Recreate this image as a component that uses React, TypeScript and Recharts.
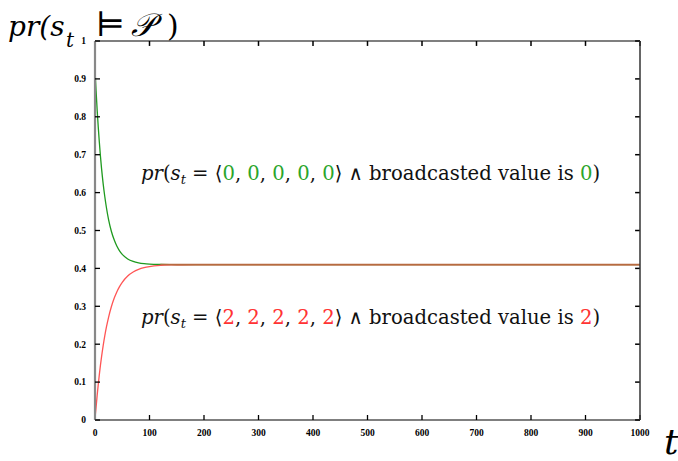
import React from "react";
import { LineChart, Line, XAxis, YAxis, Customized, ReferenceLine } from "recharts";

const T = [0, 2, 4, 6, 8, 10, 12, 15, 18, 21, 25, 30, 35, 40, 45, 50, 60, 70, 80, 90, 100, 120, 140, 160, 200, 300, 400, 500, 600, 700, 800, 900, 1000];
const GREEN = [0.925, 0.868, 0.817, 0.772, 0.732, 0.696, 0.664, 0.623, 0.589, 0.56, 0.528, 0.498, 0.476, 0.459, 0.4465, 0.437, 0.425, 0.4184, 0.4147, 0.4126, 0.4114, 0.4104, 0.4101, 0.41, 0.41, 0.41, 0.41, 0.41, 0.41, 0.41, 0.41, 0.41, 0.41];
const RED = [0.005, 0.034, 0.0655, 0.094, 0.1205, 0.1446, 0.1667, 0.1963, 0.2226, 0.2455, 0.2717, 0.2988, 0.3205, 0.338, 0.352, 0.3634, 0.38, 0.3904, 0.3973, 0.4018, 0.4047, 0.4078, 0.4091, 0.4096, 0.41, 0.41, 0.41, 0.41, 0.41, 0.41, 0.41, 0.41, 0.41];
const X_TICKS = [0, 100, 200, 300, 400, 500, 600, 700, 800, 900, 1000];
const Y_TICKS = [0, 0.1, 0.2, 0.3, 0.4, 0.5, 0.6, 0.7, 0.8, 0.9, 1];
const X_MAX = 1000;
const Y_MAX = 1;

const data = T.map((t, i) => ({
  t,
  green: GREEN[i],
  red: RED[i],
  both: Math.abs(GREEN[i] - RED[i]) < 0.003 ? GREEN[i] : null,
}));

const TIMES = "Liberation Serif";
const DJ = "DejaVu Serif";
const tickFont = { fontFamily: TIMES, fontWeight: "bold", fontSize: 9.5, fill: "#000" };
const G = "#1f9a1f";
const R = "#ff5555";
// mirrored tick length in data units (about 5px)
const TICK_DY = 0.013;
const TICK_DX = 9;

const Annotations = () => {
  const ann = (y: number, digit: string, col: string) => (
    <text x={141} y={y} fontFamily={DJ} fontSize={19.6} fill="#111">
      <tspan fontStyle="italic">pr</tspan>
      <tspan>(</tspan>
      <tspan fontStyle="italic">s</tspan>
      <tspan fontStyle="italic" fontSize={13} dy={4}>t</tspan>
      <tspan dy={-4}> = ⟨</tspan>
      <tspan fill={col}>{digit}</tspan>
      <tspan>, </tspan>
      <tspan fill={col}>{digit}</tspan>
      <tspan>, </tspan>
      <tspan fill={col}>{digit}</tspan>
      <tspan>, </tspan>
      <tspan fill={col}>{digit}</tspan>
      <tspan>, </tspan>
      <tspan fill={col}>{digit}</tspan>
      <tspan>⟩ ∧  broadcasted value is </tspan>
      <tspan fill={col}>{digit}</tspan>
      <tspan>)</tspan>
    </text>
  );
  return (
    <g>
      {ann(180, "0", "#2aa52a")}
      {ann(324, "2", "#ff3333")}
      <text x={8} y={36} fontFamily={DJ} fontSize={28} fontStyle="italic" fill="#000">pr(s</text>
      <text x={66} y={47} fontFamily={DJ} fontSize={20} fontStyle="italic" fill="#000">t</text>
      <text x={96} y={36} fontFamily={DJ} fontSize={34} fill="#000">⊨</text>
      <text x={131} y={36} fontFamily={DJ} fontSize={32} fontStyle="italic" fill="#000">𝒫</text>
      <text x={167} y={36} fontFamily={DJ} fontSize={30} fill="#000">)</text>
      <text x={664} y={454} fontFamily={DJ} fontSize={36} fontStyle="italic" fill="#000">t</text>
    </g>
  );
};

export default function App() {
  return (
    <div style={{ position: "absolute", left: 0, top: 0, width: 678, height: 461, background: "#fff" }}>
      <LineChart width={678} height={461} data={data} margin={{ top: 36, right: 28, bottom: 16, left: 55 }}>
        <XAxis
          dataKey="t"
          type="number"
          domain={[0, X_MAX]}
          ticks={X_TICKS}
          height={25}
          axisLine={{ stroke: "#000", strokeWidth: 1.2 }}
          tickLine={{ stroke: "#000", strokeWidth: 1.3 }}
          tickSize={-5}
          tickMargin={14}
          tick={tickFont}
          interval={0}
        />
        <XAxis
          xAxisId="top"
          orientation="top"
          dataKey="t"
          type="number"
          domain={[0, X_MAX]}
          height={5}
          axisLine={{ stroke: "#000", strokeWidth: 1.2 }}
          tickLine={false}
          tick={false}
        />
        <YAxis
          type="number"
          domain={[0, Y_MAX]}
          ticks={Y_TICKS}
          width={40}
          axisLine={{ stroke: "#888", strokeWidth: 2.2 }}
          tickLine={{ stroke: "#000", strokeWidth: 1.3 }}
          tickSize={-5}
          tickMargin={14}
          tick={tickFont}
          tickFormatter={(v: number) => String(v)}
          interval={0}
        />
        <YAxis
          yAxisId="right"
          orientation="right"
          type="number"
          domain={[0, Y_MAX]}
          width={10}
          axisLine={{ stroke: "#333", strokeWidth: 1.5 }}
          tickLine={false}
          tick={false}
        />
        {X_TICKS.map((x) => (
          <ReferenceLine key={"tx" + x} segment={[{ x, y: Y_MAX }, { x, y: Y_MAX - TICK_DY }]} stroke="#000" strokeWidth={1.5} ifOverflow="extendDomain" />
        ))}
        {Y_TICKS.map((y) => (
          <ReferenceLine key={"ty" + y} segment={[{ x: X_MAX, y }, { x: X_MAX - TICK_DX, y }]} stroke="#000" strokeWidth={1.5} ifOverflow="extendDomain" />
        ))}
        <Line type="monotone" dataKey="green" stroke={G} strokeWidth={1.3} dot={false} isAnimationActive={false} />
        <Line type="monotone" dataKey="red" stroke={R} strokeWidth={1.3} dot={false} isAnimationActive={false} />
        <Line type="monotone" dataKey="both" stroke="#b86a40" strokeWidth={1.6} dot={false} isAnimationActive={false} connectNulls={false} />
        <Customized component={Annotations} />
      </LineChart>
    </div>
  );
}
